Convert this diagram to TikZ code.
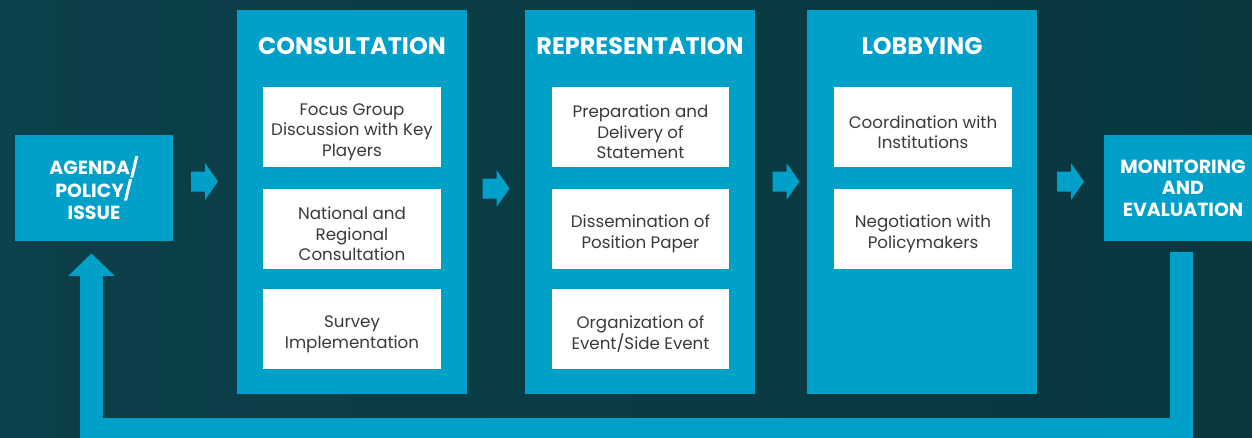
\documentclass[tikz,border=0pt]{standalone}
\usepackage{fontspec}
\setmainfont{Poppins}
\usetikzlibrary{arrows.meta,calc}

\definecolor{bgdark}{RGB}{8,55,62}
\definecolor{bgleft}{RGB}{12,64,74}
\definecolor{boxblue}{RGB}{0,160,200}
\definecolor{txtgray}{RGB}{58,58,58}

\tikzset{
  panel/.style={fill=boxblue, minimum width=4.6cm, minimum height=7.68cm, inner sep=0pt},
  endbox/.style={fill=boxblue, text=white, minimum width=3.16cm, minimum height=2.12cm, inner sep=0pt,
    align=center, font=\bfseries\fontsize{10.8}{12.2}\selectfont},
  title/.style={text=white, font=\bfseries\fontsize{13.6}{15}\selectfont},
  item/.style={fill=white, minimum width=3.56cm, minimum height=1.6cm, inner sep=0pt},
  itemtext/.style={text=txtgray, align=center, yshift=-0.1cm, font=\fontsize{9.5}{11.7}\selectfont},
  blockarrow/.pic={\fill[boxblue] (-13.5,-10) -- (0.5,-10) -- (0.5,-18.5) -- (13.5,0)
    -- (0.5,18.5) -- (0.5,10) -- (-13.5,10) -- cycle;},
  feedback/.style={draw=boxblue, line width=0.46cm, line join=miter,
    -{Triangle[width=0.9cm,length=0.45cm]}}
}

\begin{document}
\begin{tikzpicture}[x=0.02cm,y=-0.02cm]
  % background
  \shade[left color=bgleft, right color=bgdark] (0,0) rectangle (1252,437);
  \useasboundingbox (0,0) rectangle (1252,437);

  % start and end
  \node[endbox] (agenda) at (94,188) {AGENDA/\\POLICY/\\ISSUE};
  \node[endbox] (mon) at (1183,188) {MONITORING\\AND\\EVALUATION};

  % consultation
  \node[panel] (cons) at (352,202) {};
  \node[title] (consT) at (352,46) {CONSULTATION};
  \node[item] (cons1) at (352,127) {};
  \node[itemtext] at (cons1) {Focus Group\\Discussion with Key\\Players};
  \node[item] (cons2) at (352,229) {};
  \node[itemtext] at (cons2) {National and\\Regional\\Consultation};
  \node[item] (cons3) at (352,329) {};
  \node[itemtext] at (cons3) {Survey\\Implementation};

  % representation
  \node[panel] (repr) at (640,202) {};
  \node[title] (reprT) at (640,46) {REPRESENTATION};
  \node[item] (repr1) at (640.5,127) {};
  \node[itemtext] at (repr1) {Preparation and\\Delivery of\\Statement};
  \node[item] (repr2) at (640.5,229) {};
  \node[itemtext] at (repr2) {Dissemination of\\Position Paper};
  \node[item] (repr3) at (640.5,329) {};
  \node[itemtext] at (repr3) {Organization of\\Event/Side Event};

  % lobbying
  \node[panel] (lobb) at (922,202) {};
  \node[title] (lobbT) at (922,46) {LOBBYING};
  \node[item] (lobb1) at (923,127) {};
  \node[itemtext] at (lobb1) {Coordination with\\Institutions};
  \node[item] (lobb2) at (923,229) {};
  \node[itemtext] at (lobb2) {Negotiation with\\Policymakers};

  % arrows between the steps
  \pic (ar1) at (204.5,181.5) {blockarrow};
  \pic (ar2) at (496,188.5) {blockarrow};
  \pic (ar3) at (786,181.5) {blockarrow};
  \pic (ar4) at (1070.5,181.5) {blockarrow};

  % loop back
  \coordinate (turnR) at ($(mon.south)+(-1.5,188.5)$);
  \coordinate (turnL) at ($(agenda.south)+(-2.5,188.5)$);
  \draw[feedback] ($(mon.south)+(-1.5,11)$) -- (turnR) -- (turnL) -- ($(agenda.south)+(-2.5,12)$);
\end{tikzpicture}
\end{document}
